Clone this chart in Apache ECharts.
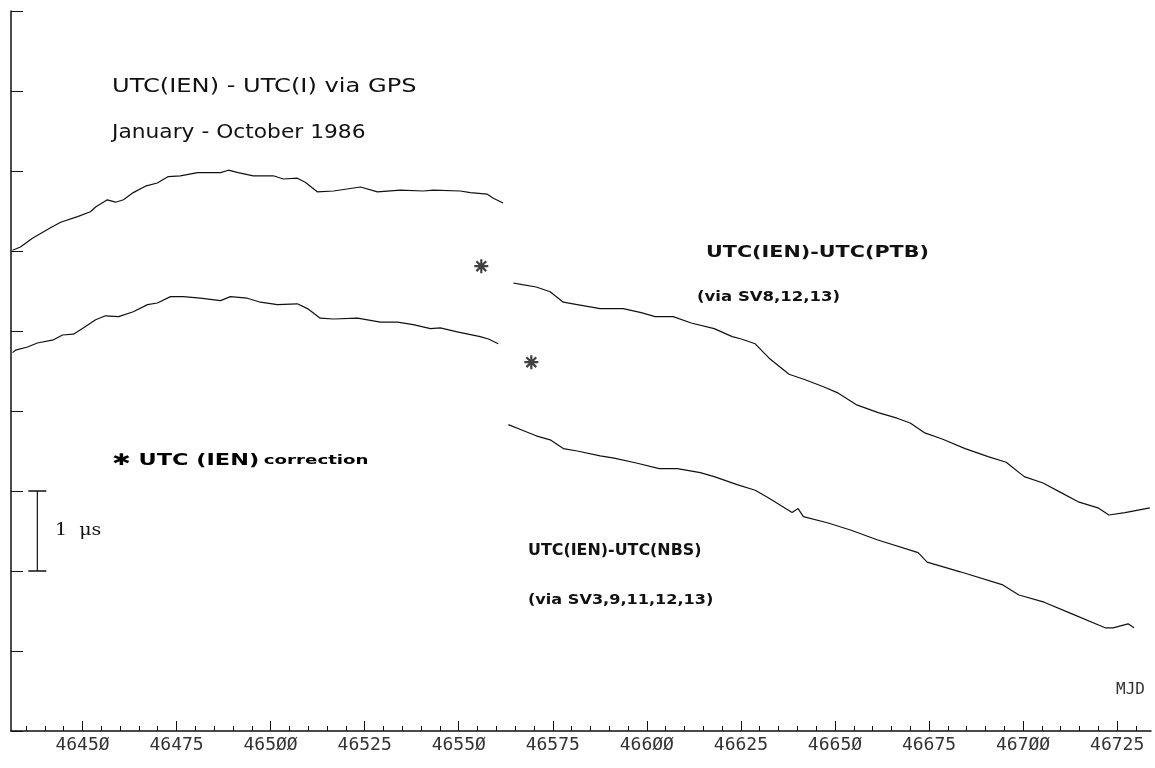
<!DOCTYPE html>
<html>
<head>
<meta charset="utf-8">
<script src="https://cdn.jsdelivr.net/npm/echarts@6/dist/echarts.min.js"></script>
<style>
  html, body { margin: 0; padding: 0; background: #fff; }
  #main { width: 1155px; height: 768px; }
</style>
</head>
<body>
<div id="main"></div>
<script>
// MJD on x, microseconds on y (1 tick = 1 us)
var ptbMjd1 = [46431.4, 46433.5, 46436.7, 46441.5, 46444.2, 46448.7, 46452.1, 46453.5, 46456.6, 46458.8, 46460.9, 46463.5, 46466.7, 46469.9, 46472.8, 46476.0, 46480.6, 46486.7, 46488.8, 46491.4, 46495.4, 46500.7, 46503.4, 46507.1, 46509.2, 46512.4, 46516.7, 46523.9, 46528.4, 46534.5, 46540.6, 46543.3, 46550.4, 46553.1, 46557.6, 46559.2, 46561.8];
var ptbVal1 = [6.01, 6.05, 6.16, 6.29, 6.36, 6.43, 6.49, 6.55, 6.64, 6.61, 6.64, 6.73, 6.81, 6.85, 6.93, 6.94, 6.98, 6.98, 7.01, 6.98, 6.94, 6.94, 6.90, 6.91, 6.86, 6.74, 6.75, 6.80, 6.74, 6.76, 6.75, 6.76, 6.75, 6.73, 6.71, 6.66, 6.60];
var ptbMjd2 = [46564.5, 46566.9, 46570.6, 46574.3, 46577.8, 46581.5, 46587.6, 46593.7, 46598.5, 46602.2, 46607.0, 46611.8, 46617.9, 46622.7, 46625.1, 46628.8, 46632.5, 46637.8, 46642.1, 46647.1, 46650.6, 46655.6, 46661.5, 46666.5, 46670.0, 46673.7, 46678.5, 46684.6, 46690.7, 46695.5, 46700.3, 46705.3, 46710.1, 46714.9, 46719.9, 46722.8, 46727.1, 46733.7];
var ptbVal2 = [5.60, 5.58, 5.55, 5.49, 5.36, 5.33, 5.28, 5.28, 5.23, 5.18, 5.18, 5.10, 5.03, 4.93, 4.90, 4.84, 4.66, 4.46, 4.39, 4.30, 4.23, 4.08, 3.98, 3.91, 3.85, 3.73, 3.65, 3.53, 3.43, 3.36, 3.18, 3.10, 2.98, 2.86, 2.79, 2.70, 2.73, 2.79];
var nbsMjd1 = [46431.4, 46432.2, 46435.4, 46438.0, 46442.3, 46444.7, 46447.6, 46450.3, 46453.5, 46456.1, 46459.6, 46463.5, 46467.3, 46469.9, 46473.4, 46476.8, 46481.3, 46486.7, 46489.3, 46493.8, 46497.3, 46501.8, 46507.1, 46509.8, 46513.2, 46516.7, 46523.1, 46529.2, 46533.7, 46537.9, 46542.5, 46545.1, 46549.6, 46555.7, 46557.9, 46560.5];
var nbsVal1 = [4.73, 4.76, 4.80, 4.85, 4.89, 4.95, 4.96, 5.04, 5.14, 5.19, 5.18, 5.24, 5.33, 5.35, 5.43, 5.43, 5.41, 5.38, 5.43, 5.41, 5.36, 5.33, 5.34, 5.28, 5.16, 5.15, 5.16, 5.11, 5.11, 5.08, 5.03, 5.04, 4.99, 4.93, 4.90, 4.84];
var nbsMjd2 = [46563.2, 46566.9, 46570.6, 46574.3, 46577.8, 46581.5, 46587.6, 46591.3, 46597.2, 46603.3, 46608.1, 46614.2, 46617.9, 46624.0, 46628.8, 46632.5, 46638.6, 46640.2, 46641.6, 46648.2, 46654.3, 46661.2, 46672.1, 46674.5, 46683.3, 46694.4, 46698.9, 46705.6, 46712.2, 46721.8, 46723.9, 46727.9, 46729.5];
var nbsVal2 = [3.83, 3.76, 3.69, 3.64, 3.53, 3.50, 3.44, 3.41, 3.35, 3.28, 3.28, 3.23, 3.18, 3.08, 3.01, 2.91, 2.73, 2.78, 2.68, 2.60, 2.51, 2.39, 2.23, 2.11, 1.99, 1.83, 1.70, 1.61, 1.48, 1.29, 1.29, 1.34, 1.29];
// UTC(IEN) correction steps
var corrMjd = [46556.0, 46569.3];
var corrVal = [5.81, 4.61];
// 1 us scale bar
var barMjd = [46438, 46438];
var barVal = [2, 3];
var majorTicks = [46450, 46475, 46500, 46525, 46550, 46575, 46600, 46625, 46650, 46675, 46700, 46725];
var minorTicks = [46435, 46440, 46445, 46455, 46460, 46465, 46470, 46480, 46485, 46490, 46495, 46505, 46510, 46515, 46520, 46530, 46535, 46540, 46545, 46555, 46560, 46565, 46570, 46580, 46585, 46590, 46595, 46605, 46610, 46615, 46620, 46630, 46635, 46640, 46645, 46655, 46660, 46665, 46670, 46680, 46685, 46690, 46695, 46705, 46710, 46715, 46720, 46730];

function zip(xs, ys) {
    return xs.map(function (x, i) { return [x, ys[i]]; });
}

var ink = '#111';
var lineSeries = function (name, xs, ys) {
    return {
        name: name,
        type: 'line',
        data: zip(xs, ys),
        showSymbol: false,
        symbol: 'none',
        lineStyle: { color: ink, width: 1.2 },
        silent: true
    };
};
// hand lettering on the original is widely spaced, so texts get stretched a bit
var label = function (x, y, text, size, bold, stretch) {
    return {
        type: 'text', x: x, y: y, scaleX: stretch,
        style: {
            text: text,
            fontFamily: 'DejaVu Sans',
            fontSize: size,
            fontWeight: bold ? 'bold' : 'normal',
            fill: ink,
            verticalAlign: 'middle'
        }
    };
};

var chart = echarts.init(document.getElementById('main'), null, { renderer: 'canvas' });
var option = {
    animation: false,
    backgroundColor: '#fff',
    grid: { left: 11, right: 4, top: 11, bottom: 37, containLabel: false },
    xAxis: [
        {
            type: 'value',
            min: 46431,
            max: 46734,
            position: 'bottom',
            splitLine: { show: false },
            axisLine: { show: true, lineStyle: { color: ink, width: 1.5 } },
            axisTick: { show: true, inside: true, length: 10, customValues: majorTicks, lineStyle: { color: ink, width: 1 } },
            axisLabel: {
                show: true,
                customValues: majorTicks,
                margin: 5,
                color: '#333',
                fontFamily: 'DejaVu Sans Mono',
                fontSize: 18,
                formatter: function (v) { return String(v).replace(/0/g, 'Ø'); }
            }
        },
        {
            type: 'value',
            min: 46431,
            max: 46734,
            position: 'bottom',
            splitLine: { show: false },
            axisLine: { show: false },
            axisTick: { show: true, inside: true, length: 5, customValues: minorTicks, lineStyle: { color: ink, width: 1 } },
            axisLabel: { show: false }
        }
    ],
    yAxis: {
        type: 'value',
        min: 0,
        max: 9,
        interval: 1,
        splitLine: { show: false },
        axisLine: { show: true, lineStyle: { color: ink, width: 1.5 } },
        axisTick: { show: true, inside: true, length: 12, lineStyle: { color: ink, width: 1 } },
        axisLabel: { show: false }
    },
    series: [
        lineSeries('UTC(IEN)-UTC(PTB)', ptbMjd1, ptbVal1),
        lineSeries('UTC(IEN)-UTC(PTB) ', ptbMjd2, ptbVal2),
        lineSeries('UTC(IEN)-UTC(NBS)', nbsMjd1, nbsVal1),
        lineSeries('UTC(IEN)-UTC(NBS) ', nbsMjd2, nbsVal2),
        {
            name: 'UTC(IEN) correction',
            type: 'scatter',
            data: zip(corrMjd, corrVal),
            symbol: 'path://M6,0L6,12M0,6L12,6M1.8,1.8L10.2,10.2M10.2,1.8L1.8,10.2',
            symbolSize: 14,
            itemStyle: { color: ink, borderColor: ink, borderWidth: 2.2 },
            silent: true
        },
        {
            name: '1 us',
            type: 'line',
            data: zip(barMjd, barVal),
            symbol: 'rect',
            symbolSize: [18, 1.5],
            showSymbol: true,
            itemStyle: { color: ink },
            lineStyle: { color: ink, width: 1.2 },
            silent: true
        }
    ],
    graphic: [
        label(112, 87, 'UTC(IEN) - UTC(I) via GPS', 19, false, 1.27),
        label(112, 133, 'January - October 1986', 19, false, 1.145),
        label(706, 253, 'UTC(IEN)-UTC(PTB)', 15, true, 1.38),
        label(697, 297, '(via SV8,12,13)', 14, true, 1.18),
        label(528, 551, 'UTC(IEN)-UTC(NBS)', 15, true, 1.06),
        label(528, 600, '(via SV3,9,11,12,13)', 14, true, 1.15),
        {
            type: 'text', x: 112, y: 461, scaleX: 1.4,
            style: {
                text: '{a|✱ UTC (IEN)} {b|correction}',
                verticalAlign: 'middle',
                rich: {
                    a: { fontFamily: 'DejaVu Sans', fontSize: 16, fontWeight: 'bold', color: ink },
                    b: { fontFamily: 'DejaVu Sans', fontSize: 13, fontWeight: 'bold', color: ink }
                }
            }
        },
        { type: 'text', x: 55, y: 531, scaleX: 1.12, style: { text: '1  μs', fontFamily: 'DejaVu Serif', fontSize: 17, fill: ink, verticalAlign: 'middle' } },
        { type: 'text', x: 1116, y: 690, style: { text: 'MJD', fontFamily: 'DejaVu Sans Mono', fontSize: 16, fill: '#333', verticalAlign: 'middle' } }
    ]
};
chart.setOption(option);
</script>
</body>
</html>
